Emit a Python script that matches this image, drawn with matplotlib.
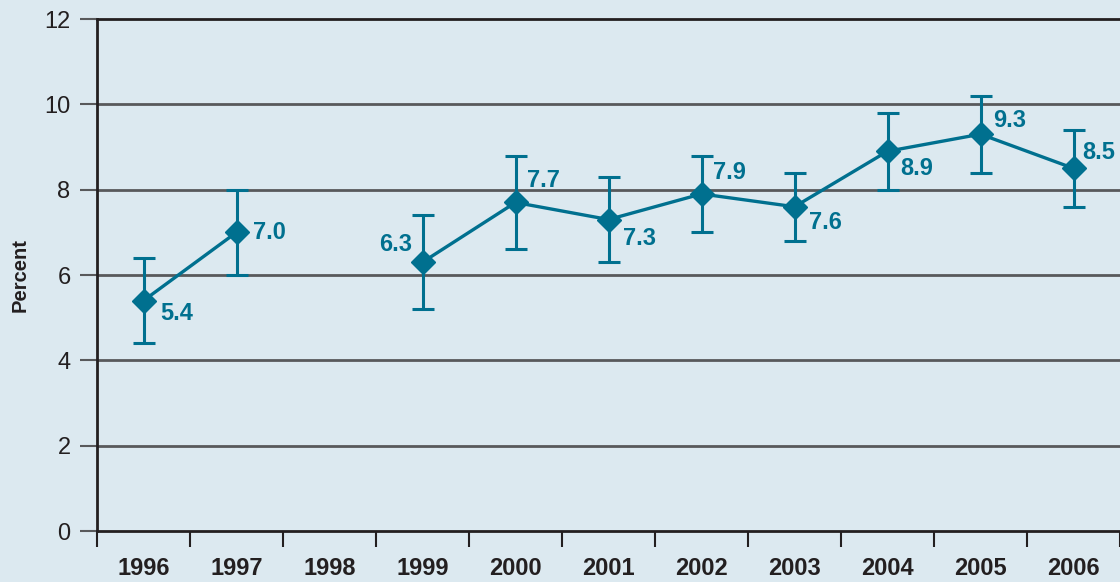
import numpy as np
import matplotlib
matplotlib.use('Agg')
import matplotlib.pyplot as plt

# data
years = ['1996', '1997', '1998', '1999', '2000', '2001', '2002', '2003', '2004', '2005', '2006']
pct = [5.4, 7.0, np.nan, 6.3, 7.7, 7.3, 7.9, 7.6, 8.9, 9.3, 8.5]
err_low = [4.4, 6.0, np.nan, 5.2, 6.6, 6.3, 7.0, 6.8, 8.0, 8.4, 7.6]
err_high = [6.4, 8.0, np.nan, 7.4, 8.8, 8.3, 8.8, 8.4, 9.8, 10.2, 9.4]
labels = ['5.4', '7.0', '', '6.3', '7.7', '7.3', '7.9', '7.6', '8.9', '9.3', '8.5']

# label offsets in pixels (dx, dy), ha
offs = [(17, -13, 'left'), (17, 0, 'left'), (0, 0, 'left'), (-10, 18, 'right'),
        (12, 22, 'left'), (14, -19, 'left'), (12, 21, 'left'), (14, -16, 'left'),
        (13, -17, 'left'), (13, 14, 'left'), (9, 16, 'left')]

bg = '#dce9f0'
teal = '#00708f'
dark = '#231f20'
grid = '#58595b'

plt.rcParams['font.family'] = ['Liberation Sans', 'DejaVu Sans']

fig = plt.figure(figsize=(11.2, 5.82), dpi=100, facecolor=bg)
ax = fig.add_axes([97 / 1120, 1 - 531 / 582, 1 - 97 / 1120, (531 - 19) / 582])
ax.set_facecolor(bg)

x = np.arange(len(years))
p = np.array(pct)
lo = p - np.array(err_low)
hi = np.array(err_high) - p

ax.errorbar(x, p, yerr=[lo, hi], fmt='none', ecolor=teal, elinewidth=2.2,
            capsize=8, capthick=2.2, zorder=3)
ax.plot(x, p, color=teal, lw=2.4, marker='D', markersize=12, zorder=4)

px = 72 / 100
for i, t in enumerate(labels):
    if not t:
        continue
    dx, dy, ha = offs[i]
    ax.annotate(t, (x[i], p[i]), xytext=(dx * px, dy * px), textcoords='offset points',
                ha=ha, va='center', color=teal, fontsize=17, fontweight='bold')

ax.set_xlim(-0.5, len(years) - 0.5)
ax.set_ylim(0, 12)
ax.set_yticks([0, 2, 4, 6, 8, 10, 12])
for yv in [2, 4, 6, 8, 10]:
    ax.axhline(yv, color=grid, lw=2, zorder=1)
ax.axhline(12, color=dark, lw=2, zorder=1, clip_on=False)

ax.tick_params(axis='y', length=12, width=1.5, color=grid, pad=7,
               labelsize=17, labelcolor=dark)
ax.set_xticks(x)
ax.set_xticklabels(years, fontsize=17, fontweight='bold', color=dark)
ax.tick_params(axis='x', which='major', length=0, pad=19)
ax.set_xticks(np.arange(len(years) + 1) - 0.5, minor=True)
ax.tick_params(axis='x', which='minor', length=11.5, width=1.5, color=dark)

for s in ['top', 'right']:
    ax.spines[s].set_visible(False)
for s in ['left', 'bottom']:
    ax.spines[s].set_color(dark)
    ax.spines[s].set_linewidth(2)

fig.text(20 / 1120, 1 - 275 / 582, 'Percent', rotation=90, ha='center', va='center',
         fontsize=14.5, fontweight='bold', color=dark)

fig.savefig('out.png', dpi=100, facecolor=bg)
